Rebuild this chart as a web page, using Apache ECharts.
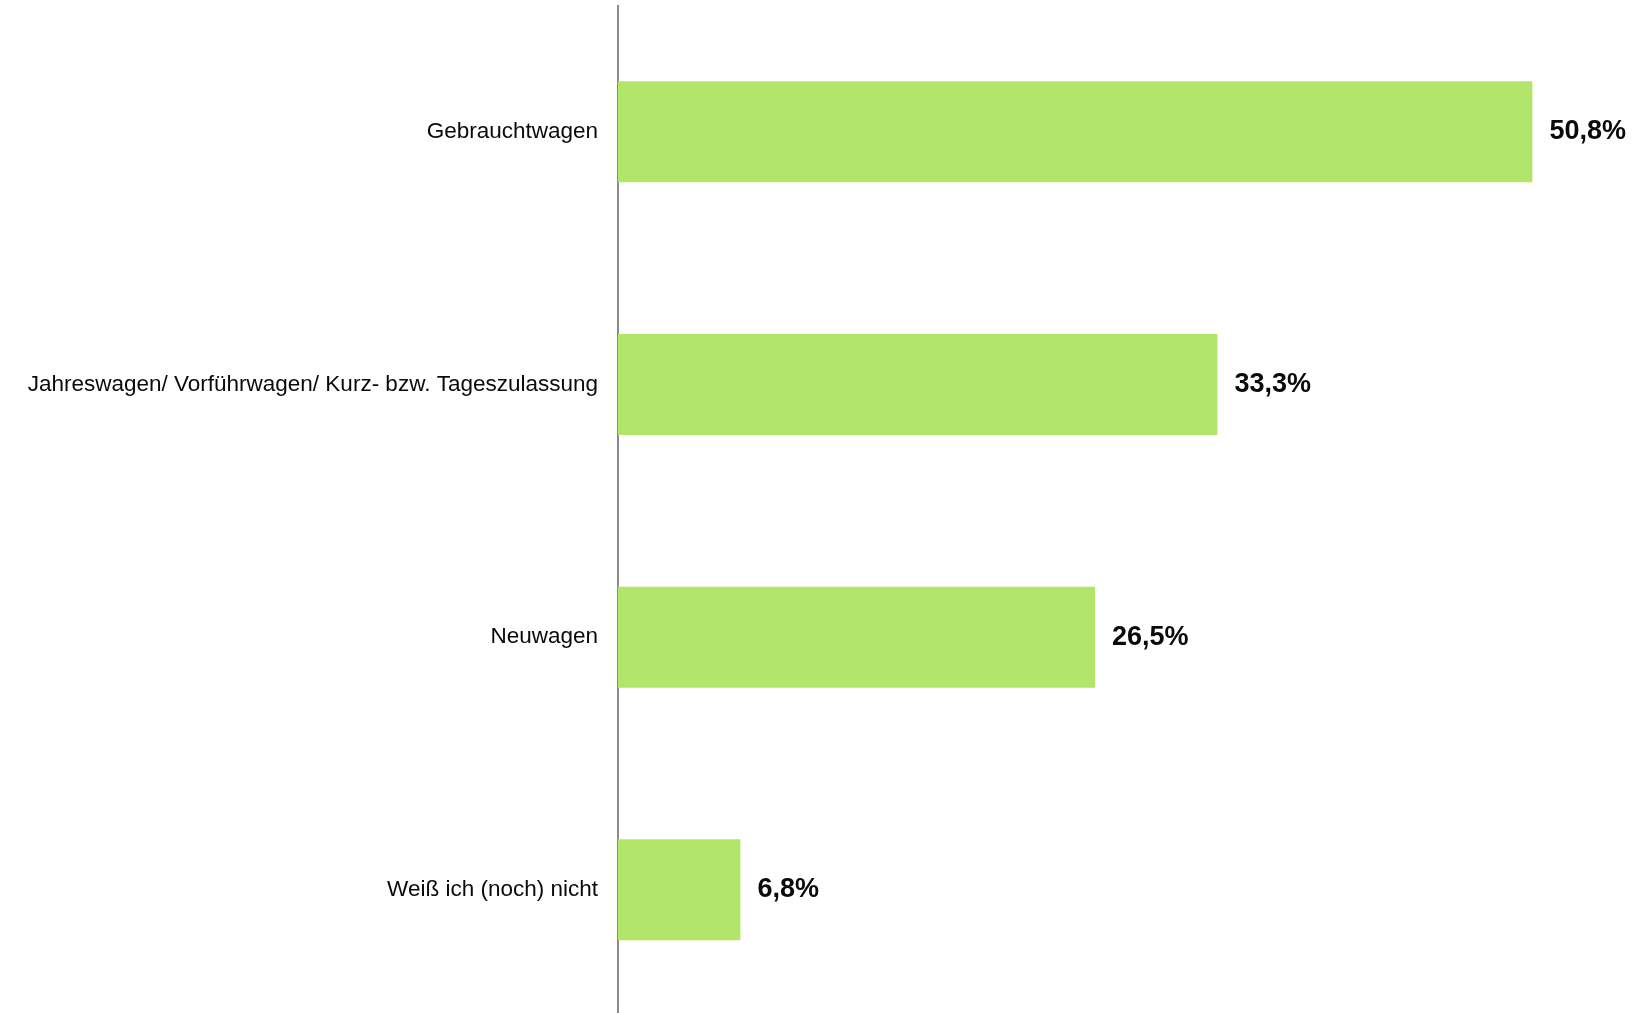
<!DOCTYPE html>
<html>
<head>
<meta charset="utf-8">
<script src="https://cdn.jsdelivr.net/npm/echarts@6/dist/echarts.min.js"></script>
<style>
  html, body { margin: 0; padding: 0; background: #fff; }
  #chart { width: 1641px; height: 1013px; }
</style>
</head>
<body>
<div id="chart"></div>
<script>
// Kategorien und Werte (in %)
const categories = [
    'Gebrauchtwagen',
    'Jahreswagen/ Vorführwagen/ Kurz- bzw. Tageszulassung',
    'Neuwagen',
    'Weiß ich (noch) nicht'
];
const values = [50.8, 33.3, 26.5, 6.8];

const chart = echarts.init(document.getElementById('chart'));
const option = {
    animation: false,
    grid: {
        left: 618,
        right: 15,
        top: 5.5,
        height: 1010.6,
        outerBoundsMode: 'none'
    },
    xAxis: {
        type: 'value',
        min: 0,
        max: 56,
        show: false
    },
    yAxis: {
        type: 'category',
        inverse: true,
        data: categories,
        axisLine: { show: true, lineStyle: { color: '#666', width: 1.5 } },
        axisTick: { show: false },
        axisLabel: {
            margin: 20,
            fontFamily: 'Liberation Sans, Arial, sans-serif',
            fontSize: 22.5,
            color: '#0a0a0a'
        }
    },
    series: [{
        type: 'bar',
        data: values,
        barWidth: 101,
        itemStyle: { color: '#b2e66a' },
        label: {
            show: true,
            position: 'right',
            distance: 17,
            fontFamily: 'Liberation Sans, Arial, sans-serif',
            fontSize: 27,
            fontWeight: 'bold',
            color: '#0a0a0a',
            formatter: p => p.value.toFixed(1).replace('.', ',') + '%'
        }
    }]
};
chart.setOption(option);
</script>
</body>
</html>
